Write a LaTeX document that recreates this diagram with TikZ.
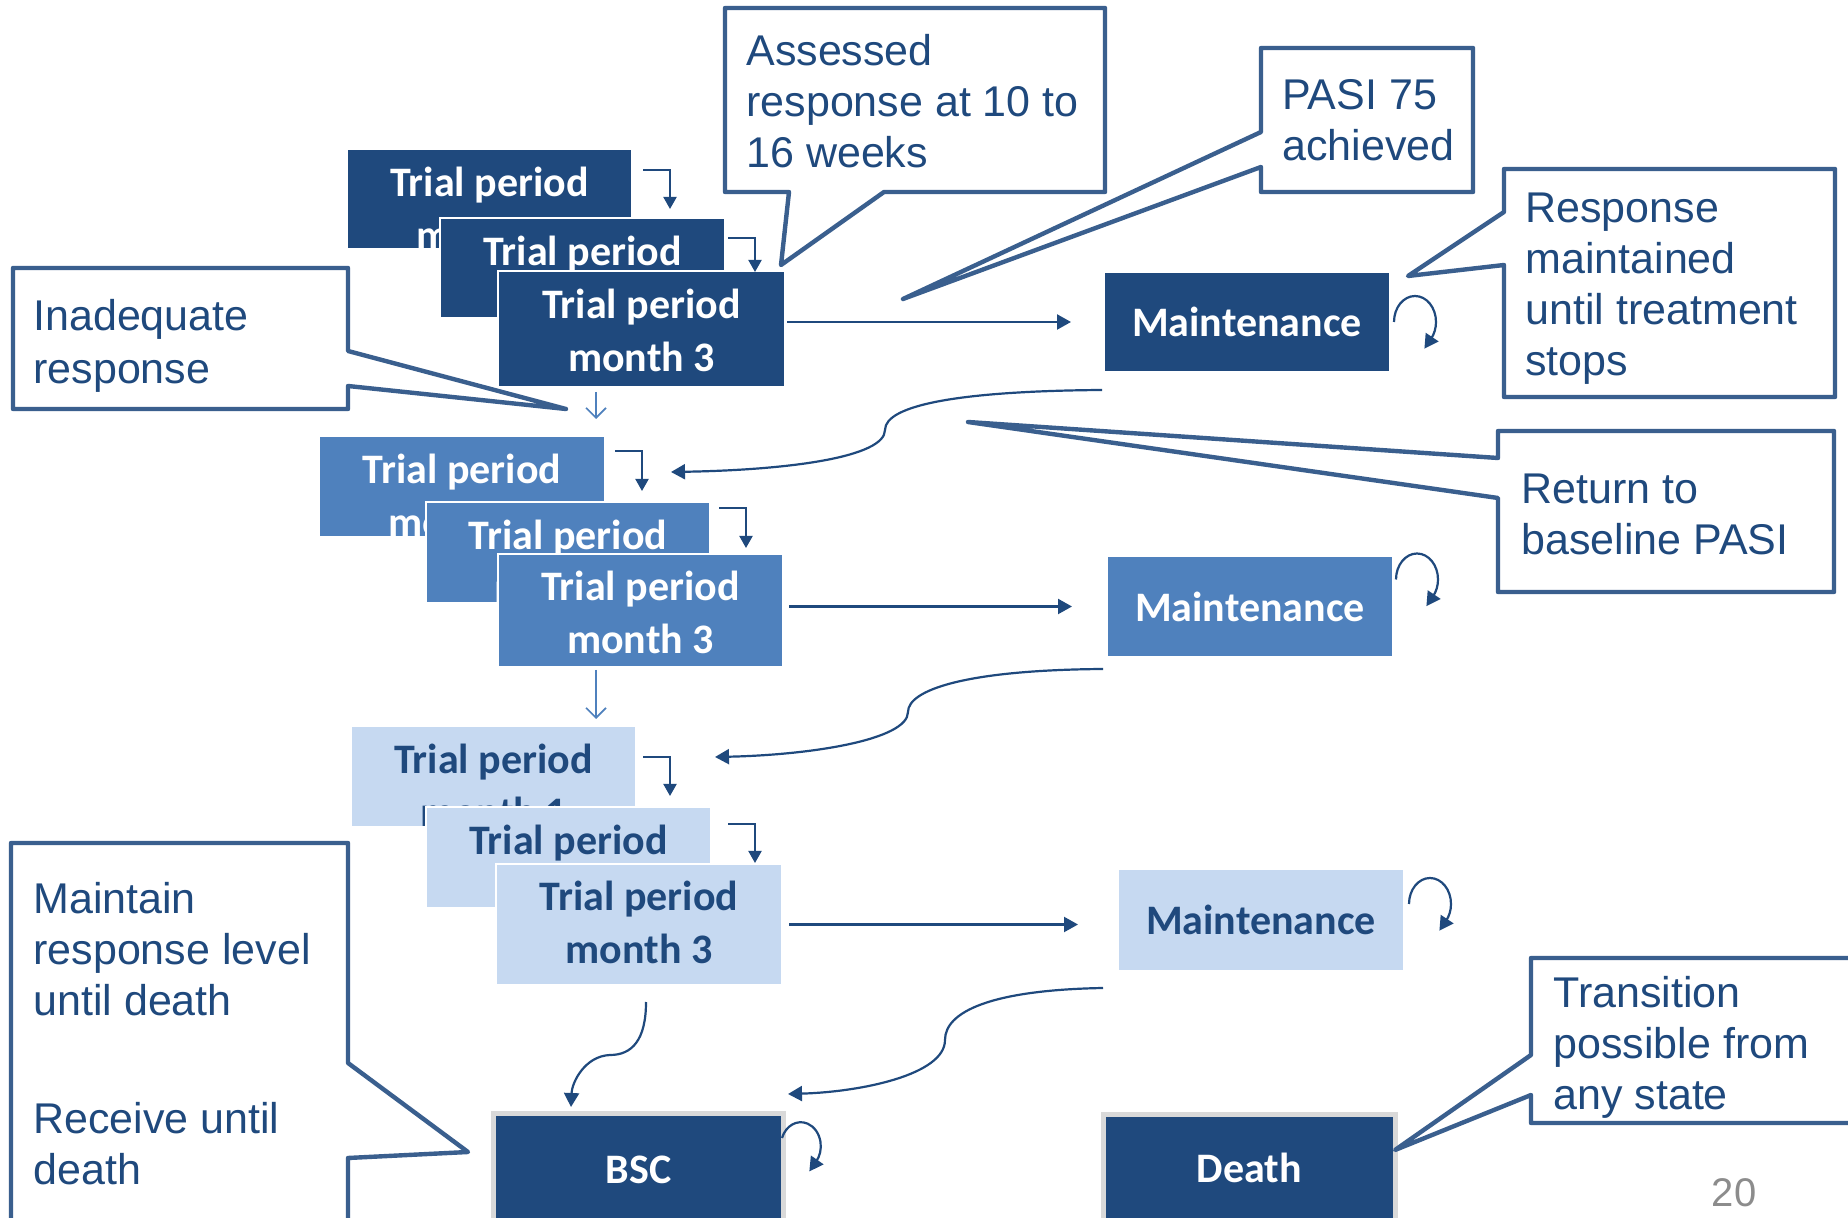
\documentclass[tikz,border=0pt]{standalone}
\usepackage{fontspec}
\setmainfont{Liberation Sans}
\newfontfamily\calfont{Carlito}
\usetikzlibrary{arrows.meta,calc}
\definecolor{dk}{HTML}{1F497D}
\definecolor{md}{HTML}{4F81BD}
\definecolor{lt}{HTML}{C6D9F1}
\definecolor{cb}{HTML}{3A5F8E}
\definecolor{ct}{HTML}{1F497D}
\definecolor{gb}{HTML}{D9D9D9}
\definecolor{pg}{HTML}{8C8C8C}
\begin{document}
\begin{tikzpicture}[x=0.5pt,y=-0.5pt,
  tbox/.style={rectangle, inner sep=0pt, outer sep=0pt, draw=white, line width=0.75pt},
  dkbox/.style={tbox, fill=dk},
  mdbox/.style={tbox, fill=md},
  ltbox/.style={tbox, fill=lt},
  btxt/.style={font=\calfont\bfseries\fontsize{21}{26.5}\selectfont, align=center, inner sep=0pt, anchor=north},
  wtxt/.style={btxt, text=white},
  ktxt/.style={btxt, text=dk},
  endbox/.style={rectangle, inner sep=0pt, outer sep=0pt, fill=dk, draw=gb, line width=2.5pt, text=white, font=\calfont\bfseries\fontsize{21}{26}\selectfont},
  callout/.style={draw=cb, fill=white, line width=2.2pt, line join=round},
  ctext/.style={font=\fontsize{21.5}{25.5}\selectfont, text=ct, align=left, inner sep=0pt, anchor=north west},
  conn/.style={draw=dk, line width=1.1pt, -{Triangle[length=7pt,width=7.5pt]}},
  thin/.style={draw=dk, line width=1pt, -{Triangle[length=6pt,width=6.5pt]}},
  openarr/.style={draw=md, line width=0.8pt, -{Straight Barb[length=5pt,width=10pt]}}
]
\useasboundingbox (0,0) rectangle (1848,1218);
\clip (0,0) rectangle (1848,1218);
\fill[white] (0,0) rectangle (1848,1218);

% ---------- row 1 ----------
\node[dkbox, minimum width=142.5pt, minimum height=50pt] (b11) at (489.5,199) {};
\node[wtxt] (t11) at ($(b11.north)+(0,18)$) {Trial period\\month 1};
\node[dkbox, minimum width=142.5pt, minimum height=50pt] (b12) at (582.5,268) {};
\node[wtxt] (t12) at ($(b12.north)+(0,18)$) {Trial period\\month 2};
\node[dkbox, minimum width=143.5pt, minimum height=58pt] (b13) at (641.5,329) {};
\node[wtxt] (t13) at ($(b13.north)+(0,18)$) {Trial period\\month 3};

% ---------- row 2 ----------
\node[mdbox, minimum width=143pt, minimum height=50.5pt] (b21) at (462,486.5) {};
\node[wtxt] (t21) at ($(b21.north)+(0,18)$) {Trial period\\month 1};
\node[mdbox, minimum width=142pt, minimum height=50.5pt] (b22) at (568,552.5) {};
\node[wtxt] (t22) at ($(b22.north)+(0,18)$) {Trial period\\month 2};
\node[mdbox, minimum width=142.5pt, minimum height=56.5pt] (b23) at (640.5,610.5) {};
\node[wtxt] (t23) at ($(b23.north)+(0,17)$) {Trial period\\month 3};

% ---------- row 3 ----------
\node[ltbox, minimum width=142.5pt, minimum height=50.5pt] (b31) at (493.5,776.5) {};
\node[ktxt] (t31) at ($(b31.north)+(0,18)$) {Trial period\\month 1};
\node[ltbox, minimum width=142.5pt, minimum height=50.5pt] (b32) at (568.5,857.5) {};
\node[ktxt] (t32) at ($(b32.north)+(0,18)$) {Trial period\\month 2};
\node[ltbox, minimum width=143pt, minimum height=60.5pt] (b33) at (639,924.5) {};
\node[ktxt] (t33) at ($(b33.north)+(0,17)$) {Trial period\\month 3};

% ---------- maintenance ----------
\node[dkbox, minimum width=143pt, minimum height=50pt, text=white, font=\calfont\bfseries\fontsize{21}{26}\selectfont] (m1) at (1247,322) {Maintenance};
\node[mdbox, minimum width=143pt, minimum height=50.5pt, text=white, font=\calfont\bfseries\fontsize{21}{26}\selectfont] (m2) at (1250,606.5) {Maintenance};
\node[ltbox, minimum width=143pt, minimum height=51pt, text=dk, font=\calfont\bfseries\fontsize{21}{26}\selectfont] (m3) at (1261,920) {Maintenance};

% ---------- BSC / Death ----------
\node[endbox, minimum width=145pt, minimum height=56.5pt] (bsc) at (638.5,1170) {BSC};
\node[endbox, minimum width=146pt, minimum height=53.5pt] (death) at (1249.5,1168) {Death};

% ---------- coordinates ----------
\coordinate (e11s) at (643,170); \coordinate (e11e) at (670,209);
\coordinate (e12s) at (728,238); \coordinate (e12e) at (755,272);
\coordinate (e21s) at (615,451); \coordinate (e21e) at (642,491);
\coordinate (e22s) at (719,508); \coordinate (e22e) at (746,548);
\coordinate (e31s) at (643,757); \coordinate (e31e) at (670,796);
\coordinate (e32s) at (728,824); \coordinate (e32e) at (755,863);
\coordinate (o1s) at (596,392); \coordinate (o1e) at (596,419);
\coordinate (o2s) at (596,670); \coordinate (o2e) at (596,719);
\coordinate (c1s) at (1102,390); \coordinate (c1e) at (671,472);
\coordinate (c2s) at (1103,669); \coordinate (c2e) at (715,757);
\coordinate (c3s) at (1103,988); \coordinate (c3e) at (788,1094);
\coordinate (c4s) at (646,1002); \coordinate (c4e) at (571,1107);

% ---------- elbow connectors ----------
\draw[thin] (e11s) -| (e11e);
\draw[thin] (e12s) -| (e12e);
\draw[thin] (e21s) -| (e21e);
\draw[thin] (e22s) -| (e22e);
\draw[thin] (e31s) -| (e31e);
\draw[thin] (e32s) -| (e32e);

% ---------- open arrows between rows ----------
\draw[openarr] (o1s) -- (o1e);
\draw[openarr] (o2s) -- (o2e);

% ---------- to maintenance ----------
\draw[conn, shorten <=1pt, shorten >=16.5pt] (b13.east |- m1.west) -- (m1.west);
\draw[conn, shorten <=3pt, shorten >=17.5pt] (b23.east |- m2.west) -- (m2.west);
\draw[conn, shorten <=3.5pt, shorten >=20pt] (b33.east) -- (b33.east -| m3.west);

% ---------- self loops ----------
\draw[conn] ($(m1.east)+(4,0)$) arc[start angle=180, end angle=400, x radius=21, y radius=26] -- ++(-6.7,10);
\draw[conn] ($(m2.east)+(3,-27)$) arc[start angle=180, end angle=400, x radius=21, y radius=26] -- ++(-6.7,10);
\draw[conn] ($(m3.east)+(5,-16)$) arc[start angle=180, end angle=400, x radius=21, y radius=26] -- ++(-6.7,10);
\draw[conn] ($(bsc.east)+(-1.5,-32)$) arc[start angle=200, end angle=400, x radius=20, y radius=24] -- ++(-6.8,9.8);

% ---------- curved connectors ----------
\draw[conn] (c1s) .. controls (960,391) and (885,405) .. (885,430) .. controls (885,457) and (790,470) .. (c1e);
\draw[conn] (c2s) .. controls (965,670) and (908,690) .. (908,712) .. controls (908,740) and (810,755) .. (c2e);
\draw[conn] (c3s) .. controls (990,990) and (945,1012) .. (945,1040) .. controls (945,1075) and (860,1092) .. (c3e);
\draw[conn] (c4s) .. controls (646,1040) and (632,1055) .. (610,1055) .. controls (585,1056) and (572,1082) .. (c4e);

% ---------- callouts ----------
\draw[callout] (725,8) -- (1105,8) -- (1105,192) -- (884,192) -- (781,265) -- (789,192) -- (725,192) -- cycle;
\node[ctext] (ta) at (746,34) {Assessed\\response at 10 to\\16 weeks};

\draw[callout] (1261,48) -- (1473,48) -- (1473,192) -- (1261,192) -- (1261,167) -- (903,299) -- (1261,132) -- cycle;
\node[ctext] (tp) at (1282,79) {PASI 75\\achieved};

\draw[callout] (1504,169) -- (1835,169) -- (1835,397) -- (1504,397) -- (1504,265) -- (1408,276) -- (1504,212) -- cycle;
\node[ctext] (tr) at (1525,193) {Response\\maintained\\until treatment\\stops};

\draw[callout] (1498,431) -- (1834,431) -- (1834,592) -- (1498,592) -- (1498,498) -- (968,422) -- (1498,458) -- cycle;
\node[ctext] (tb) at (1521,474) {Return to\\baseline PASI};

\draw[callout] (13,268) -- (348,268) -- (348,351) -- (566,409) -- (348,386) -- (348,409) -- (13,409) -- cycle;
\node[ctext, font=\fontsize{21.5}{26.5}\selectfont] (ti) at (33,299) {Inadequate\\response};

\draw[callout] (11,843) -- (348,843) -- (348,1063) -- (468,1152) -- (348,1158) -- (348,1240) -- (11,1240) -- cycle;
\node[ctext] (tm) at (33,882) {Maintain\\response level\\until death};
\node[ctext] (tv) at (33,1102) {Receive until\\death};

\draw[callout] (1531,958) -- (1870,958) -- (1870,1123) -- (1531,1123) -- (1531,1095) -- (1395,1150) -- (1531,1055) -- cycle;
\node[ctext] (tt) at (1553,976) {Transition\\possible from\\any state};

% ---------- page number ----------
\node[text=pg, font=\fontsize{20}{24}\selectfont, inner sep=0pt] (pn) at (1734,1193) {20};
\end{tikzpicture}
\end{document}
